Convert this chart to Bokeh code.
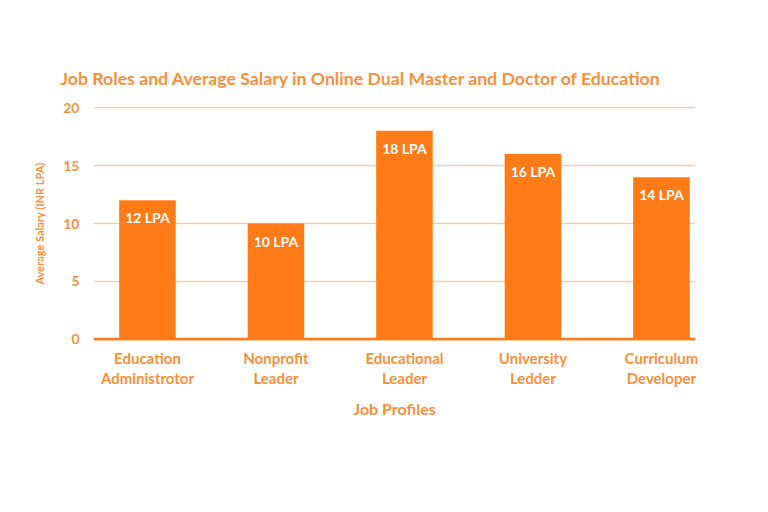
from bokeh.plotting import figure
from bokeh.models import (ColumnDataSource, Range1d, FixedTicker, LabelSet,
                          Span)
from bokeh.core.properties import value
from bokeh.embed import file_html
from bokeh.resources import INLINE

# Job profiles and their average salary (INR lakh per annum)
categories = ["Education\nAdministrotor", "Nonprofit\nLeader",
              "Educational\nLeader", "University\nLedder",
              "Curriculum\nDeveloper"]
salaries = [12, 10, 18, 16, 14]
bar_labels = [f"{v} LPA" for v in salaries]
y_ticks = [0, 5, 10, 15, 20]

ORANGE = "#fe7b17"
TEXT = "#f7903c"
GRID = "#fdcaa3"
FONT = "Lato"

positions = list(range(len(categories)))
src = ColumnDataSource(dict(x=positions, top=salaries, label=bar_labels))

p = figure(width=768, height=512, output_backend="svg", toolbar_location=None,
           x_range=Range1d(-0.42, 4.265), y_range=Range1d(-0.1, 20.1),
           min_border_left=93, min_border_right=73,
           min_border_top=106, min_border_bottom=172,
           title="Job Roles and Average Salary in Online Dual Master and Doctor of Education")
p.outline_line_color = None
p.background_fill_color = "white"
p.border_fill_color = "white"

# Chart title
p.title.align = "left"
p.title.offset = -33
p.title.standoff = 35
p.title.text_color = TEXT
p.title.text_font = FONT
p.title.text_font_style = "bold"
p.title.text_font_size = "17.7px"

p.vbar(x="x", top="top", width=0.44, bottom=0, source=src,
       fill_color=ORANGE, line_color=None)

# Baseline
p.add_layout(Span(location=0, dimension="width", line_color=ORANGE,
                  line_width=3))

# Value labels inside bar tops
p.add_layout(LabelSet(x="x", y="top", text="label", source=src,
                      y_offset=-9, text_align="center", text_baseline="top",
                      text_color="white", text_font=value(FONT),
                      text_font_style="bold", text_font_size="14px"))

# Axes
p.xgrid.grid_line_color = None
p.ygrid.grid_line_color = GRID
p.ygrid.grid_line_width = 1.5
p.ygrid.ticker = FixedTicker(ticks=y_ticks)

p.xaxis.ticker = FixedTicker(ticks=positions)
p.xaxis.major_label_overrides = {i: c for i, c in zip(positions, categories)}
p.yaxis.ticker = FixedTicker(ticks=y_ticks)

for ax in (p.xaxis[0], p.yaxis[0]):
    ax.axis_line_color = None
    ax.major_tick_line_color = None
    ax.minor_tick_line_color = None
    ax.major_label_text_color = TEXT
    ax.major_label_text_font = FONT
    ax.major_label_text_font_style = "bold"
    ax.axis_label_text_color = TEXT
    ax.axis_label_text_font = FONT
    ax.axis_label_text_font_style = "bold"

p.xaxis.major_label_text_font_size = "15px"
p.xaxis.major_label_text_line_height = 1.15
p.xaxis.major_label_standoff = 2
p.xaxis.axis_label = "Job Profiles"
p.xaxis.axis_label_text_font_size = "16px"
p.xaxis.axis_label_standoff = 9

p.yaxis.major_label_text_font_size = "14px"
p.yaxis.major_label_standoff = 8
p.yaxis.axis_label = "Average Salary (INR LPA)"
p.yaxis.axis_label_text_font_size = "11px"
p.yaxis.axis_label_standoff = 14

open("out.html", "w").write(file_html(p, INLINE))
